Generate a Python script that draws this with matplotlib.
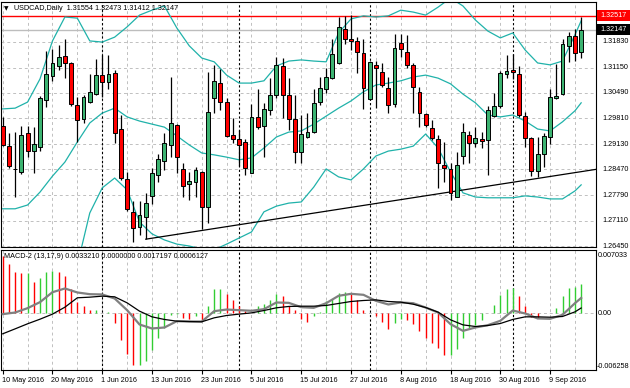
import numpy as np
import matplotlib
matplotlib.use("Agg")
import matplotlib.pyplot as plt
from matplotlib.patches import Rectangle
from matplotlib.transforms import blended_transform_factory

# ---------------- data ----------------
opens = [1.2961, 1.2908, 1.2848, 1.2840, 1.2943, 1.2895, 1.2906, 1.3030, 1.3093, 1.3119,
         1.3145, 1.3127, 1.3016, 1.2979, 1.3024, 1.3045, 1.3095, 1.3077, 1.3101, 1.2953,
         1.2821, 1.2735, 1.2695, 1.2721, 1.2777, 1.2832, 1.2869, 1.2911, 1.2964, 1.2848,
         1.2808, 1.2814, 1.2840, 1.2748, 1.3035, 1.3074, 1.3024, 1.2937, 1.2927, 1.2919,
         1.2837, 1.2985, 1.2961, 1.3003, 1.3043, 1.3119, 1.3043, 1.2979, 1.2893, 1.2932,
         1.2945, 1.3024, 1.3059, 1.3087, 1.3127, 1.3216, 1.3190, 1.3185, 1.3153, 1.3032,
         1.3122, 1.3103, 1.3061, 1.3019, 1.3180, 1.3156, 1.3122, 1.3051, 1.2993, 1.2956,
         1.2927, 1.2858, 1.2848, 1.2774, 1.2882, 1.2937, 1.2916, 1.2927, 1.2924, 1.2987,
         1.3014, 1.3098, 1.3108, 1.3098, 1.2987, 1.2929, 1.2843, 1.2887, 1.2932, 1.3035,
         1.3045, 1.3172, 1.3198, 1.31554]
highs = [1.2985, 1.2943, 1.2945, 1.2961, 1.2961, 1.2958, 1.3040, 1.3159, 1.3164, 1.3174,
         1.3190, 1.3130, 1.3037, 1.3043, 1.3098, 1.3137, 1.3148, 1.3148, 1.3108, 1.2990,
         1.2840, 1.2764, 1.2764, 1.2785, 1.2850, 1.2887, 1.2943, 1.3090, 1.2966, 1.2864,
         1.2840, 1.2853, 1.2843, 1.3103, 1.3122, 1.3111, 1.3035, 1.2982, 1.2950, 1.2927,
         1.3019, 1.3059, 1.3022, 1.3087, 1.3143, 1.3140, 1.3087, 1.3043, 1.2990, 1.2995,
         1.3059, 1.3090, 1.3114, 1.3190, 1.3248, 1.3251, 1.3253, 1.3195, 1.3190, 1.3132,
         1.3132, 1.3127, 1.3090, 1.3203, 1.3203, 1.3201, 1.3127, 1.3064, 1.2995, 1.2977,
         1.2937, 1.2919, 1.2864, 1.2893, 1.2969, 1.2948, 1.2958, 1.2945, 1.3014, 1.3048,
         1.3106, 1.3148, 1.3151, 1.3119, 1.2998, 1.2932, 1.2932, 1.2943, 1.3059, 1.3124,
         1.3190, 1.3208, 1.3216, 1.32473]
lows = [1.2908, 1.2850, 1.2774, 1.2835, 1.2879, 1.2837, 1.2895, 1.3011, 1.3080, 1.3108,
        1.3087, 1.3014, 1.2919, 1.2969, 1.3022, 1.3043, 1.3037, 1.3059, 1.2916, 1.2819,
        1.2737, 1.2656, 1.2674, 1.2663, 1.2756, 1.2814, 1.2845, 1.2879, 1.2837, 1.2774,
        1.2766, 1.2774, 1.2690, 1.2706, 1.2995, 1.3003, 1.2932, 1.2916, 1.2856, 1.2832,
        1.2837, 1.2953, 1.2879, 1.2990, 1.3035, 1.2982, 1.2950, 1.2864, 1.2864, 1.2929,
        1.2943, 1.3016, 1.3048, 1.3085, 1.3124, 1.3177, 1.3161, 1.3101, 1.3006, 1.3030,
        1.3008, 1.3064, 1.2995, 1.3011, 1.3143, 1.3114, 1.2995, 1.2958, 1.2958, 1.2924,
        1.2798, 1.2814, 1.2766, 1.2774, 1.2861, 1.2864, 1.2906, 1.2903, 1.2832, 1.2985,
        1.3008, 1.3087, 1.3085, 1.2985, 1.2906, 1.2829, 1.2827, 1.2853, 1.2914, 1.3032,
        1.3043, 1.3130, 1.3132, 1.31412]
closes = [1.2911, 1.2856, 1.2847, 1.2937, 1.2895, 1.2914, 1.3035, 1.3098, 1.3127, 1.3143,
          1.3127, 1.3019, 1.2977, 1.3037, 1.3051, 1.3095, 1.3077, 1.3098, 1.2943, 1.2824,
          1.2743, 1.2692, 1.2727, 1.2758, 1.2837, 1.2874, 1.2916, 1.2969, 1.2879, 1.2803,
          1.2816, 1.2845, 1.2748, 1.2998, 1.3080, 1.3024, 1.2935, 1.2927, 1.2911, 1.2850,
          1.2985, 1.2958, 1.3006, 1.3043, 1.3122, 1.3043, 1.2979, 1.2893, 1.2940, 1.2945,
          1.3022, 1.3061, 1.3090, 1.3151, 1.3222, 1.3190, 1.3185, 1.3156, 1.3061, 1.3130,
          1.3114, 1.3069, 1.3016, 1.3166, 1.3164, 1.3122, 1.3064, 1.2995, 1.2964, 1.2929,
          1.2864, 1.2850, 1.2785, 1.2858, 1.2945, 1.2916, 1.2929, 1.2922, 1.3003, 1.3014,
          1.3101, 1.3106, 1.3103, 1.2990, 1.2929, 1.2843, 1.2887, 1.2935, 1.3037, 1.3040,
          1.3177, 1.3198, 1.3153, 1.32147]

# Bollinger bands, sampled every second bar
band_bars = list(range(0, 93, 2)) + [93]
bb_upper = [1.3006, 1.3008, 1.3024, 1.3085, 1.3185, 1.3248, 1.3245, 1.3185, 1.3182, 1.3195,
            1.3222, 1.3253, 1.3266, 1.3277, 1.3219, 1.3172, 1.3140, 1.3130, 1.3095, 1.3074,
            1.3074, 1.3080, 1.3119, 1.3132, 1.3135, 1.3132, 1.3130, 1.3206, 1.3243, 1.3251,
            1.3248, 1.3251, 1.3266, 1.3261, 1.3253, 1.3274, 1.3298, 1.3277, 1.3240, 1.3211,
            1.3193, 1.3206, 1.3161, 1.3127, 1.3122, 1.3132, 1.3201, 1.3238]
bb_middle = [1.2743, 1.2743, 1.2753, 1.2787, 1.2829, 1.2866, 1.2919, 1.2969, 1.2995, 1.3008,
             1.2985, 1.2974, 1.2966, 1.2958, 1.2935, 1.2911, 1.2890, 1.2885, 1.2879, 1.2872,
             1.2877, 1.2903, 1.2932, 1.2945, 1.2948, 1.2966, 1.2987, 1.3008, 1.3027, 1.3051,
             1.3069, 1.3074, 1.3080, 1.3090, 1.3095, 1.3087, 1.3072, 1.3045, 1.3022, 1.2990,
             1.2985, 1.2990, 1.2974, 1.2953, 1.2948, 1.2972, 1.3001, 1.3022]
lower_bars = list(range(12, 93, 2)) + [93]
bb_lower = [1.2595, 1.2732, 1.2798, 1.2824, 1.2793, 1.2708, 1.2677, 1.2661, 1.2650, 1.2645,
            1.2637, 1.2635, 1.2650, 1.2666, 1.2682, 1.2735, 1.2750, 1.2758, 1.2761, 1.2800,
            1.2848, 1.2827, 1.2819, 1.2848, 1.2882, 1.2895, 1.2900, 1.2908, 1.2940, 1.2903,
            1.2840, 1.2785, 1.2774, 1.2772, 1.2772, 1.2772, 1.2777, 1.2774, 1.2769, 1.2769,
            1.2790, 1.2806]

trend_bars = [23, 86]
trend_prices = [1.2663, 1.2823]
resistance = 1.32517
last_price = 1.32147

price_ticks = [1.31830, 1.31150, 1.30490, 1.29810, 1.29130, 1.28470, 1.27790, 1.27110, 1.26450]

# MACD-2 (13,17,9)
macd_hist = [6.35, 5.43, 4.62, 4.51, 4.51, 3.51, 3.95, 4.62, 4.69, 4.62,
             4.14, 2.66, 1.26, 0.81, 0.44, 0.44, 0.00, 0.15, -1.03, -2.88,
             -4.54, -5.65, -5.65, -5.28, -3.99, -2.70, -1.59, -0.22, -0.11, -0.48,
             -0.66, -0.30, -0.78, 0.81, 2.73, 2.73, 2.18, 1.55, 0.81, 0.26,
             0.07, 0.81, 1.00, 1.55, 2.11, 1.92, 0.81, 0.44, -0.66, -0.96,
             -0.33, 0.22, 1.33, 1.59, 2.25, 2.33, 2.18, 1.44, 0.41, 0.00,
             -0.26, -0.89, -1.74, -1.00, -0.63, -0.70, -1.14, -1.99, -2.73, -3.29,
             -3.84, -4.58, -4.58, -3.95, -2.73, -1.62, -1.26, -0.70, 0.11, 0.96,
             2.07, 2.70, 2.81, 1.96, 0.78, -0.41, -0.52, 0.04, 0.11, 0.59,
             1.96, 2.81, 2.99, 3.32]  # x 1e-3
macd_gray = [-0.07, 0.11, 0.59, 1.26, 2.36, 2.77, 2.33, 2.14, 2.11, 1.66,
             0.37, -1.22, -1.66, -1.55, -0.85, -0.89, -0.89, 0.26, 0.44, 0.37,
             0.30, 0.48, 1.22, 1.18, 0.70, 0.63, 1.14, 1.96, 2.18, 2.07,
             1.40, 1.00, 1.22, 1.14, 0.66, 0.11, -1.18, -1.92, -1.55, -1.29,
             -0.81, 0.33, 0.00, -0.55, -0.59, -0.15, 1.14, 1.72]  # x 1e-3
macd_black = [-2.25, -1.70, -1.14, -0.63, -0.07, 0.70, 1.74, 1.81, 1.92, 1.85,
              1.18, 0.26, -0.37, -0.66, -0.85, -0.89, -0.92, -0.48, -0.22, -0.07,
              0.07, 0.33, 0.63, 0.78, 0.81, 0.81, 0.89, 1.11, 1.33, 1.44,
              1.51, 1.33, 1.26, 1.03, 0.66, 0.15, -0.70, -1.26, -1.44, -1.33,
              -1.11, -0.66, -0.37, -0.37, -0.41, -0.33, 0.18, 0.61]  # x 1e-3
macd_top, macd_bottom = 0.0070330, -0.0062580
macd_top_label, macd_zero_label, macd_bottom_label = "0.007033", "0.00", "-0.006258"

date_bars = [0, 8, 16, 24, 32, 40, 48, 56, 64, 72, 80, 88]
date_labels = ["10 May 2016", "20 May 2016", "1 Jun 2016", "13 Jun 2016", "23 Jun 2016",
               "5 Jul 2016", "15 Jul 2016", "27 Jul 2016", "8 Aug 2016", "18 Aug 2016",
               "30 Aug 2016", "9 Sep 2016"]
month_start_bars = [16, 38, 59, 82]

title_text = "USDCAD,Daily  1.31554 1.32473 1.31412 1.32147"
macd_text = "MACD-2 (13,17,9) 0.0033210 0.0000000 0.0017197 0.0006127"

# ---------------- styling ----------------
FONT = "Liberation Sans"
FS = 5.2
GREEN = "#3CB371"
BAND = "#20B2AA"
GRID = "#C0C0C0"

W, H = 630, 388
fig = plt.figure(figsize=(W / 100, H / 100), dpi=100)
fig.patch.set_facecolor("white")


def fx(px):
    return px / W


def fy(py):
    return 1 - py / H


ax = fig.add_axes([fx(1), fy(247), fx(596) - fx(1), fy(2) - fy(247)])
axm = fig.add_axes([fx(1), fy(370), fx(596) - fx(1), fy(250) - fy(370)], sharex=ax)

n = len(closes)
x = np.arange(n)
o = np.array(opens); h = np.array(highs); l = np.array(lows); c = np.array(closes)

x_left = (1 - 2.7) / 6.22
x_right = (596 - 2.7) / 6.22
ax.set_xlim(x_left, x_right)
ax.set_ylim(1.26424, 1.32875)
axm.set_ylim(macd_bottom, macd_top)

for a in (ax, axm):
    a.set_facecolor("white")
    for s in a.spines.values():
        s.set_color("black")
        s.set_linewidth(0.8)
    a.tick_params(left=False, right=False, labelleft=False, labelright=False)

ax.tick_params(bottom=False, labelbottom=False)

# grids
for a in (ax, axm):
    for b in range(0, 96, 4):
        a.axvline(b, color=GRID, lw=0.7, ls=(0, (3, 3)), zorder=0)
    for b in month_start_bars:
        a.axvline(b, color="black", lw=0.8, ls=(0, (2, 2)), zorder=0.5)
for p in price_ticks:
    ax.axhline(p, color=GRID, lw=0.7, ls=(0, (3, 3)), zorder=0)
axm.axhline(0, color=GRID, lw=0.7, ls=(0, (3, 3)), zorder=0)

# horizontal lines
ax.axhline(last_price, color="#BDBDBD", lw=1.0, zorder=1)
ax.axhline(resistance, color="red", lw=1.0, zorder=1)

# bollinger bands
ax.plot(band_bars, bb_upper, color=BAND, lw=0.9, zorder=2)
ax.plot(band_bars, bb_middle, color=BAND, lw=0.9, zorder=2)
ax.plot(lower_bars, bb_lower, color=BAND, lw=0.9, zorder=2)

# trend line (ray to the right edge)
slope = (trend_prices[1] - trend_prices[0]) / (trend_bars[1] - trend_bars[0])
ax.plot([trend_bars[0], x_right], [trend_prices[0], trend_prices[0] + slope * (x_right - trend_bars[0])],
        color="black", lw=0.9, zorder=3)

# candles
up = c >= o
ax.vlines(x, l, h, color="black", lw=0.9, zorder=4)
body_h = np.maximum(np.abs(c - o), 0.00006)
ax.bar(x, body_h, bottom=np.minimum(o, c), width=0.62,
       color=np.where(up, GREEN, "#FF0000"), edgecolor="black", linewidth=0.7, zorder=5)

# MACD
hist = np.array(macd_hist) * 1e-3
hist_cols = ["#FF0000"] + ["#32CD32" if hist[i] >= hist[i - 1] else "#FF0000" for i in range(1, n)]
axm.vlines(x, 0, hist, colors=hist_cols, lw=1.0, zorder=2)
axm.plot(band_bars, np.array(macd_gray) * 1e-3, color="#808080", lw=1.6, zorder=3)
axm.plot(band_bars, np.array(macd_black) * 1e-3, color="black", lw=0.9, zorder=4)

# date ticks
axm.set_xticks(date_bars)
axm.tick_params(axis="x", direction="out", length=3, width=0.8, labelbottom=False, bottom=True)
for b, lab in zip(date_bars, date_labels):
    fig.text(fx(2.7 + 6.22 * b - 1), fy(380), lab, ha="left", va="center", fontsize=FS,
             family=FONT, color="black")

# texts
fig.text(fx(4), fy(8.5), "\u25BC", ha="left", va="center", fontsize=4.2,
         family=["DejaVu Sans"], color="black")
fig.text(fx(14), fy(8.5), title_text, ha="left", va="center", fontsize=FS, family=FONT, color="black")
fig.text(fx(4), fy(256), macd_text, ha="left", va="center", fontsize=FS, family=FONT, color="black")

# price axis labels
ty = blended_transform_factory(fig.transFigure, ax.transData)
for p in price_ticks:
    ax.text(fx(602), p, f"{p:.5f}", transform=ty, ha="left", va="center", fontsize=FS,
            family=FONT, color="black", clip_on=False)
box_h = 10.5 * (1.32875 - 1.26424) / 245
ax.add_artist(Rectangle((fx(597), resistance - box_h / 2), fx(33), box_h, transform=ty,
                        facecolor="red", edgecolor="none", clip_on=False, zorder=6))
ax.text(fx(600), resistance, f"{resistance:.5f}", transform=ty, ha="left", va="center",
        fontsize=FS, family=FONT, color="white", clip_on=False, zorder=7)
ax.add_artist(Rectangle((fx(597), last_price - box_h / 2), fx(33), box_h, transform=ty,
                        facecolor="black", edgecolor="none", clip_on=False, zorder=6))
ax.text(fx(600), last_price, f"{last_price:.5f}", transform=ty, ha="left", va="center",
        fontsize=FS, family=FONT, color="white", clip_on=False, zorder=7)

tm = blended_transform_factory(fig.transFigure, axm.transData)
axm.text(fx(598), macd_top - 0.0006, macd_top_label, transform=tm, ha="left", va="center",
         fontsize=FS, family=FONT, color="black", clip_on=False)
axm.text(fx(598), 0, macd_zero_label, transform=tm, ha="left", va="center",
         fontsize=FS, family=FONT, color="black", clip_on=False)
axm.text(fx(597), macd_bottom + 0.0004, macd_bottom_label, transform=tm, ha="left", va="center",
         fontsize=FS, family=FONT, color="black", clip_on=False)

fig.savefig("out.png", dpi=100, facecolor="white")
